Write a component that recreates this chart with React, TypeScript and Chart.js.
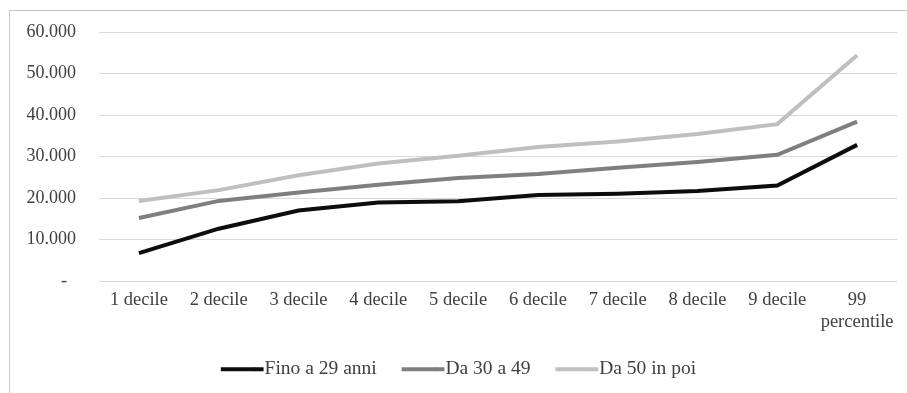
import React, { useEffect, useRef } from "react";
import { Chart, registerables } from "chart.js";

Chart.register(...registerables);

const categories: (string | string[])[] = [
  "1 decile", "2 decile", "3 decile", "4 decile", "5 decile",
  "6 decile", "7 decile", "8 decile", "9 decile", ["99", "percentile"],
];
const fino29 = [6700, 12600, 17000, 18900, 19200, 20700, 21000, 21700, 23000, 32800];
const da30a49 = [15200, 19300, 21300, 23200, 24800, 25800, 27300, 28700, 30400, 38400];
const da50 = [19300, 21900, 25500, 28300, 30200, 32300, 33600, 35400, 37800, 54400];
const seriesNames = ["Fino a 29 anni", "Da 30 a 49", "Da 50 in poi"];
const seriesColors = ["#0d0d0d", "#7f7f7f", "#bfbfbf"];

const FONT = "'Liberation Serif', 'Times New Roman', serif";
const LEGEND_FONT_SIZE = 19.5;
const LEGEND_BOX = 34;

// Extends each legend swatch across the label gap so it touches the text.
const swatchJoin = {
  id: "swatchJoin",
  afterDraw(chart: any) {
    const lg = chart.legend;
    if (!lg || !lg.legendHitBoxes) return;
    const ctx = chart.ctx;
    ctx.save();
    lg.legendHitBoxes.forEach((hb: any, i: number) => {
      const item = lg.legendItems[i];
      const cy = hb.top + hb.height / 2;
      ctx.fillStyle = item.fillStyle;
      ctx.fillRect(hb.left + LEGEND_BOX - 1, cy - 2, LEGEND_FONT_SIZE / 2, 4);
    });
    ctx.restore();
  },
};

export default function App() {
  const ref = useRef<HTMLCanvasElement>(null);
  useEffect(() => {
    if (!ref.current) return;
    const data = [fino29, da30a49, da50];
    const chart = new Chart(ref.current, {
      type: "line",
      data: {
        labels: categories,
        datasets: data.map((d, i) => ({
          label: seriesNames[i],
          data: d,
          borderColor: seriesColors[i],
          backgroundColor: seriesColors[i],
          borderWidth: 4,
          pointRadius: 0,
          tension: 0,
        })),
      },
      plugins: [swatchJoin],
      options: {
        animation: false,
        responsive: false,
        layout: { padding: { top: 21, left: 0, right: 0, bottom: 4 } },
        scales: {
          x: {
            offset: true,
            grid: { display: false, drawTicks: false },
            border: { display: false },
            afterFit: (s: any) => {
              s.height = 53.5;
              s.paddingRight = 10;
            },
            ticks: {
              autoSkip: false,
              maxRotation: 0,
              padding: 8,
              color: "#404040",
              font: { family: FONT, size: 18.5 },
            },
          },
          y: {
            min: 0,
            max: 60000,
            afterFit: (s: any) => {
              s.width = 89;
              s.paddingTop = 0;
              s.paddingBottom = 0;
            },
            ticks: {
              stepSize: 10000,
              padding: 23,
              color: "#404040",
              font: { family: FONT, size: 18 },
              callback: (v: any) =>
                Number(v) === 0 ? "-  " : Number(v).toLocaleString("it-IT").replace(/,/g, "."),
            },
            grid: { color: "#d9d9d9", lineWidth: 1, drawTicks: false },
            border: { display: false },
          },
        },
        plugins: {
          legend: {
            position: "bottom",
            labels: {
              boxWidth: LEGEND_BOX,
              boxHeight: 4,
              padding: 25,
              color: "#404040",
              font: { family: FONT, size: LEGEND_FONT_SIZE },
              generateLabels: (c: any) =>
                Chart.defaults.plugins.legend.labels
                  .generateLabels(c)
                  .map((l: any) => ({ ...l, lineWidth: 0 })),
            },
          },
          tooltip: { enabled: false },
        },
      },
    });
    return () => chart.destroy();
  }, []);
  return (
    <div
      style={{
        position: "fixed",
        left: 9,
        top: 10,
        width: 898,
        height: 383,
        borderLeft: "1px solid #c8c8c8",
        borderTop: "1px solid #c8c8c8",
        boxSizing: "border-box",
      }}
    >
      <canvas ref={ref} width={897} height={382} style={{ display: "block" }} />
    </div>
  );
}
